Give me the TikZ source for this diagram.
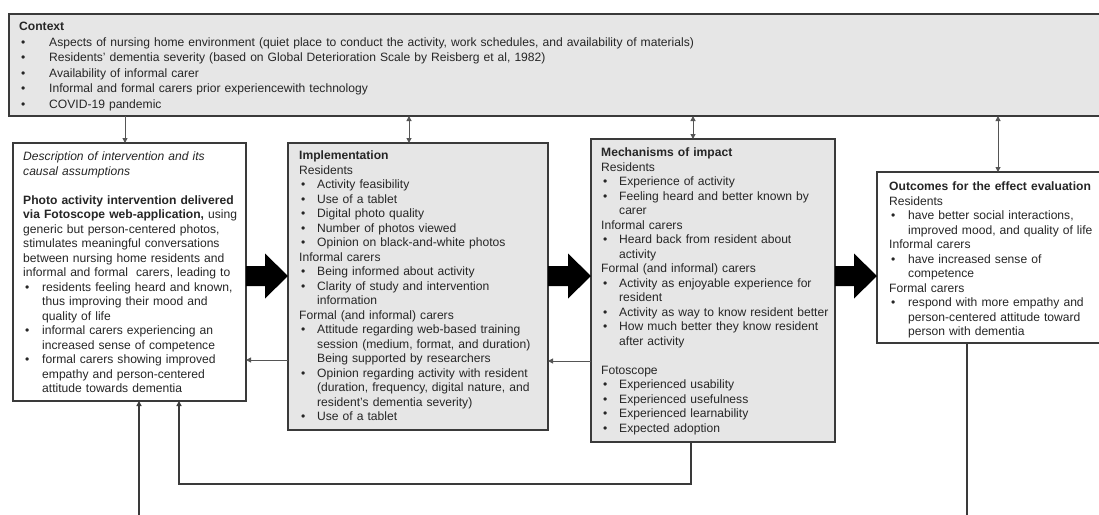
\documentclass[tikz,border=0pt]{standalone}
\usepackage{fontspec}
\setmainfont{Liberation Sans}
\usetikzlibrary{arrows.meta,calc}
\definecolor{boxgray}{HTML}{E6E6E6}
\definecolor{linec}{HTML}{3A3A3A}
\definecolor{txt}{HTML}{262626}
\definecolor{connc}{HTML}{555555}
\definecolor{fatc}{HTML}{000000}
\newcommand\bxfont{\fontsize{12.1}{14.5}\selectfont}
\newcommand\ctxfont{\fontsize{12.1}{15.5}\selectfont}
\newcommand\nl{\hfil\break}
% bullet item with hanging indent #1
\newcommand\bitem[2]{\par\noindent\hangindent=#1\hangafter=1\makebox[#1][l]{\hspace{2pt}\textbullet}#2\par}
\newcommand\plainline[1]{\par\noindent #1\par}
\newcommand\fatarrow[2]{%
  \fill[fatc] let \p1=(#1.east), \p2=(#2.west) in
    (\x1,-266pt) -- (\x2-23pt,-266pt) -- (\x2-23pt,-253.5pt) -- (\x2,-276pt)
    -- (\x2-23pt,-298.5pt) -- (\x2-23pt,-286pt) -- (\x1,-286pt) -- cycle;}
\begin{document}
\begin{tikzpicture}[x=1pt,y=-1pt,
  boxbase/.style={draw=linec,line width=1.4pt,inner sep=0pt,outer sep=0pt,anchor=north west},
  gbox/.style={boxbase,fill=boxgray},
  wbox/.style={boxbase,fill=white},
  btext/.style={anchor=base west,inner sep=0pt,text width=#1,font=\bxfont,text=txt},
  btext/.default=300pt,
  conn/.style={draw=connc,line width=1pt,-{Triangle[length=5pt,width=5pt]}},
  conn2/.style={draw=connc,line width=1pt,{Triangle[length=5pt,width=5pt]}-{Triangle[length=5pt,width=5pt]}},
  loopline/.style={draw=linec,line width=1.3pt,-{Triangle[length=5pt,width=5pt]}},
  plain/.style={draw=linec,line width=1.1pt}
]
\useasboundingbox (0,0) rectangle (1099,514);
\clip (0,0) rectangle (1099,514);
\fill[white] (0,0) rectangle (1099,514);

% boxes
\node[gbox,minimum width=1101pt,minimum height=102pt] (ctx) at (9,14) {};
\node[wbox,minimum width=233pt,minimum height=258pt] (desc) at (13,143) {};
\node[gbox,minimum width=260pt,minimum height=287pt] (impl) at (288,143) {};
\node[gbox,minimum width=244pt,minimum height=303pt] (mech) at (591,139) {};
\node[wbox,minimum width=233pt,minimum height=171pt] (out) at (877,172) {};

% texts
\node[btext=1060pt,font=\ctxfont] (ctxT) at (19,15.5) {%
\plainline{\textbf{Context}}
\bitem{30pt}{Aspects of nursing home environment (quiet place to conduct the activity, work schedules, and availability of materials)}
\bitem{30pt}{Residents' dementia severity (based on Global Deterioration Scale by Reisberg et al, 1982)}
\bitem{30pt}{Availability of informal carer}
\bitem{30pt}{Informal and formal carers prior experiencewith technology}
\bitem{30pt}{COVID-19 pandemic}};

\node[btext] (descT) at (23,146) {%
\plainline{\textit{Description of intervention and its}\nl\textit{causal assumptions}}
\vspace{\baselineskip}
\plainline{\textbf{Photo activity intervention delivered}\nl
\textbf{via Fotoscope web-application,} using\nl
generic but person-centered photos,\nl
stimulates meaningful conversations\nl
between nursing home residents and\nl
informal and formal\ \ carers, leading to}
\bitem{19pt}{residents feeling heard and known,\nl thus improving their mood and\nl quality of life}
\bitem{19pt}{informal carers experiencing an\nl increased sense of competence}
\bitem{19pt}{formal carers showing improved\nl empathy and person-centered\nl attitude towards dementia}};

\node[btext] (implT) at (299,145) {%
\plainline{\textbf{Implementation}}
\plainline{Residents}
\bitem{18pt}{Activity feasibility}
\bitem{18pt}{Use of a tablet}
\bitem{18pt}{Digital photo quality}
\bitem{18pt}{Number of photos viewed}
\bitem{18pt}{Opinion on black-and-white photos}
\plainline{Informal carers}
\bitem{18pt}{Being informed about activity}
\bitem{18pt}{Clarity of study and intervention\nl information}
\plainline{Formal (and informal) carers}
\bitem{18pt}{Attitude regarding web-based training\nl session (medium, format, and duration)\nl Being supported by researchers}
\bitem{18pt}{Opinion regarding activity with resident\nl (duration, frequency, digital nature, and\nl resident's dementia severity)}
\bitem{18pt}{Use of a tablet}};

\node[btext] (mechT) at (601,142) {%
\plainline{\textbf{Mechanisms of impact}}
\plainline{Residents}
\bitem{18pt}{Experience of activity}
\bitem{18pt}{Feeling heard and better known by\nl carer}
\plainline{Informal carers}
\bitem{18pt}{Heard back from resident about\nl activity}
\plainline{Formal (and informal) carers}
\bitem{18pt}{Activity as enjoyable experience for\nl resident}
\bitem{18pt}{Activity as way to know resident better}
\bitem{18pt}{How much better they know resident\nl after activity}
\vspace{\baselineskip}
\plainline{Fotoscope}
\bitem{18pt}{Experienced usability}
\bitem{18pt}{Experienced usefulness}
\bitem{18pt}{Experienced learnability}
\bitem{18pt}{Expected adoption}};

\node[btext] (outT) at (889,176) {%
\plainline{\textbf{Outcomes for the effect evaluation}}
\plainline{Residents}
\bitem{19pt}{have better social interactions,\nl improved mood, and quality of life}
\plainline{Informal carers}
\bitem{19pt}{have increased sense of\nl competence}
\plainline{Formal carers}
\bitem{19pt}{respond with more empathy and\nl person-centered attitude toward\nl person with dementia}};

% fat arrows
\fatarrow{desc}{impl}
\fatarrow{impl}{mech}
\fatarrow{mech}{out}

% context connectors
\coordinate (c1) at ([xshift=112pt]desc.north west);
\draw[conn] (c1 |- ctx.south) -- (c1);
\coordinate (c2) at ([xshift=121pt]impl.north west);
\draw[conn2] (c2 |- ctx.south) -- (c2);
\coordinate (c3) at ([xshift=102pt]mech.north west);
\draw[conn2] (c3 |- ctx.south) -- (c3);
\coordinate (c4) at ([xshift=121pt]out.north west);
\draw[conn2] (c4 |- ctx.south) -- (c4);

% feedback connectors
\coordinate (f1) at ([yshift=-217pt]impl.north west);
\draw[conn] (f1) -- (f1 -| desc.east);
\coordinate (f2) at ([yshift=-222pt]mech.north west);
\draw[conn] (f2) -- (f2 -| impl.east);

\coordinate (lowy) at (0,484);
\coordinate (m1) at ([xshift=100pt]mech.south west);
\coordinate (d1) at ([xshift=166pt]desc.south west);
\draw[loopline] (m1) -- (m1 |- lowy) -- (d1 |- lowy) -- (d1);

\coordinate (bottomedge) at (0,516);
\coordinate (o1) at ([xshift=90pt]out.south west);
\draw[plain] (o1) -- (o1 |- bottomedge);
\coordinate (d2) at ([xshift=126pt]desc.south west);
\draw[loopline] (d2 |- bottomedge) -- (d2);
\end{tikzpicture}
\end{document}
